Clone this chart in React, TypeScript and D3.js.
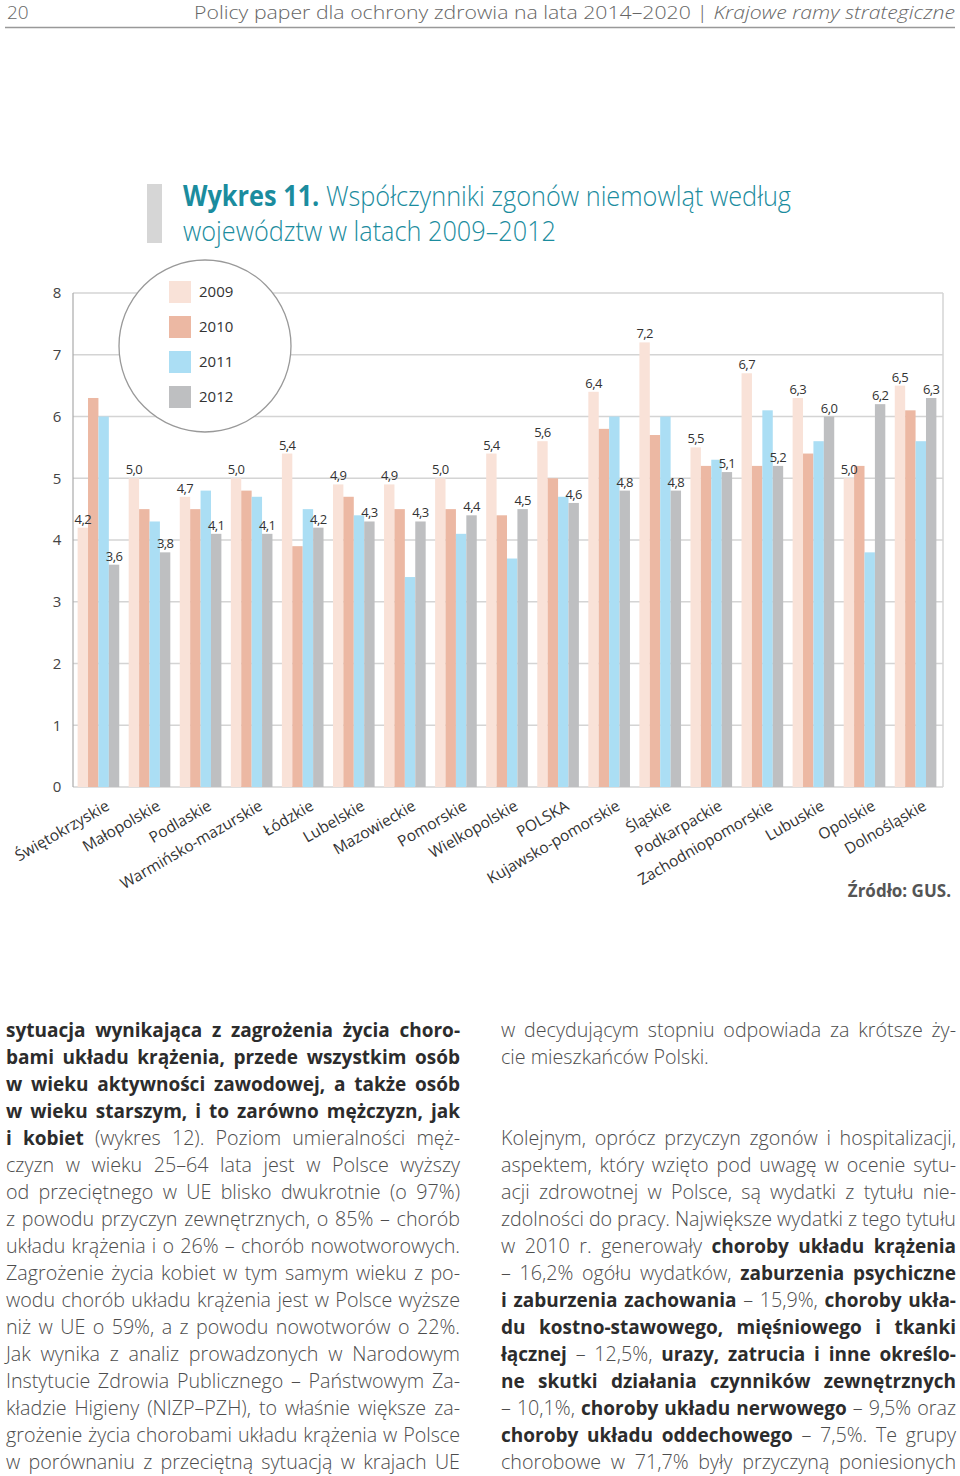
import React from 'react';
import * as d3 from 'd3';

const categories = ['Świętokrzyskie','Małopolskie','Podlaskie','Warmińsko-mazurskie','Łódzkie','Lubelskie','Mazowieckie','Pomorskie','Wielkopolskie','POLSKA','Kujawsko-pomorskie','Śląskie','Podkarpackie','Zachodniopomorskie','Lubuskie','Opolskie','Dolnośląskie'];
const years = ['2009','2010','2011','2012'];
const values2009 = [4.2,5.0,4.7,5.0,5.4,4.9,4.9,5.0,5.4,5.6,6.4,7.2,5.5,6.7,6.3,5.0,6.5];
const values2010 = [6.3,4.5,4.5,4.8,3.9,4.7,4.5,4.5,4.4,5.0,5.8,5.7,5.2,5.2,5.4,5.2,6.1];
const values2011 = [6.0,4.3,4.8,4.7,4.5,4.4,3.4,4.1,3.7,4.7,6.0,6.0,5.3,6.1,5.6,3.8,5.6];
const values2012 = [3.6,3.8,4.1,4.1,4.2,4.3,4.3,4.4,4.5,4.6,4.8,4.8,5.1,5.2,6.0,6.2,6.3];
const seriesValues = [values2009, values2010, values2011, values2012];
const labelledSeries = [0, 3];
const yTicks = [0,1,2,3,4,5,6,7,8];
const colors = ['#f9e2d8','#ecb8a3','#abdef4','#bebfc1'];

const leftLines = [
  '**sytuacja wynikająca z zagrożenia życia choro-**',
  '**bami układu krążenia, przede wszystkim osób**',
  '**w wieku aktywności zawodowej, a także osób**',
  '**w wieku starszym, i to zarówno mężczyzn, jak**',
  '**i kobiet** (wykres 12). Poziom umieralności męż-',
  'czyzn w wieku 25–64 lata jest w Polsce wyższy',
  'od przeciętnego w UE blisko dwukrotnie (o 97%)',
  'z powodu przyczyn zewnętrznych, o 85% – chorób',
  'układu krążenia i o 26% – chorób nowotworowych.',
  'Zagrożenie życia kobiet w tym samym wieku z po-',
  'wodu chorób układu krążenia jest w Polsce wyższe',
  'niż w UE o 59%, a z powodu nowotworów o 22%.',
  'Jak wynika z analiz prowadzonych w Narodowym',
  'Instytucie Zdrowia Publicznego – Państwowym Za-',
  'kładzie Higieny (NIZP–PZH), to właśnie większe za-',
  'grożenie życia chorobami układu krążenia w Polsce',
  'w porównaniu z przeciętną sytuacją w krajach UE',
];
const rightLines = [
  'w decydującym stopniu odpowiada za krótsze ży-',
  'cie mieszkańców Polski.|',
  '',
  '',
  'Kolejnym, oprócz przyczyn zgonów i hospitalizacji,',
  'aspektem, który wzięto pod uwagę w ocenie sytu-',
  'acji zdrowotnej w Polsce, są wydatki z tytułu nie-',
  'zdolności do pracy. Największe wydatki z tego tytułu',
  'w 2010 r. generowały **choroby układu krążenia**',
  '– 16,2% ogółu wydatków, **zaburzenia psychiczne**',
  '**i zaburzenia zachowania** – 15,9%, **choroby ukła-**',
  '**du kostno-stawowego, mięśniowego i tkanki**',
  '**łącznej** – 12,5%, **urazy, zatrucia i inne określo-**',
  '**ne skutki działania czynników zewnętrznych**',
  '– 10,1%, **choroby układu nerwowego** – 9,5% oraz',
  '**choroby układu oddechowego** – 7,5%. Te grupy',
  'chorobowe w 71,7% były przyczyną poniesionych',
];

const FONT = '"Open Sans", sans-serif';
const BOLD_SIZE = 19;
const REG_SIZE = 19.7;
const REG_WEIGHT = 300;

let ctx: CanvasRenderingContext2D | null = null;
function measure(text: string, bold: boolean) {
  if (!ctx) ctx = document.createElement('canvas').getContext('2d');
  if (!ctx) return text.length * 9;
  ctx.font = bold ? `700 ${BOLD_SIZE}px "Open Sans"` : `${REG_WEIGHT} ${REG_SIZE}px "Open Sans"`;
  return ctx.measureText(text).width;
}

function layoutLine(line: string, x0: number, x1: number) {
  let justify = true;
  let src = line;
  if (src.endsWith('|')) { justify = false; src = src.slice(0, -1); }
  const parts = src.split('**');
  const words: { t: string; b: boolean; w: number }[] = [];
  parts.forEach((p, i) => {
    const b = i % 2 === 1;
    p.split(' ').filter(s => s.length).forEach(t => words.push({ t, b, w: measure(t, b) }));
  });
  const total = words.reduce((s, w) => s + w.w, 0);
  const space = measure(' ', false);
  const gap = justify && words.length > 1 ? (x1 - x0 - total) / (words.length - 1) : space;
  let x = x0;
  return words.map(w => { const r = { ...w, x }; x += w.w + gap; return r; });
}

function BodyColumn({ lines, x0, x1, y0 }: { lines: string[]; x0: number; x1: number; y0: number }) {
  return (
    <g>
      {lines.map((line, i) => layoutLine(line, x0, x1).map((w, j) => (
        <text key={`${i}-${j}`} x={w.x} y={y0 + i * 27} fontFamily={FONT} fontSize={w.b ? BOLD_SIZE : REG_SIZE}
          fontWeight={w.b ? 700 : REG_WEIGHT} fill={w.b ? '#2c2c2c' : '#4d4d4d'}>{w.t}</text>
      )))}
    </g>
  );
}

export default function App() {
  const x0 = d3.scaleBand<string>().domain(categories).range([72, 942]).paddingInner(0.185).paddingOuter(0.11);
  const x1 = d3.scaleBand<string>().domain(years).range([0, x0.bandwidth()]);
  const y = d3.scaleLinear().domain([0, 8]).range([787, 293]);
  const plotLeft = 73, plotRight = 943;

  return (
    <svg width={960} height={1476} style={{ position: 'absolute', left: 0, top: 0, background: '#fff' }}>
      {/* header */}
      <text x={7} y={19} fontFamily={FONT} fontSize={19} fontWeight={300} fill="#666">20</text>
      <text x={194} y={19} fontFamily={FONT} fontSize={19} fontWeight={300} fill="#666" textLength={761} lengthAdjust="spacingAndGlyphs">
        Policy paper dla ochrony zdrowia na lata 2014–2020 | <tspan fontStyle="italic">Krajowe ramy strategiczne</tspan>
      </text>
      <line x1={5} x2={955} y1={27.5} y2={27.5} stroke="#999" strokeWidth={1.5} />

      {/* title */}
      <rect x={147} y={184} width={15} height={59} fill="#d6d6d6" />
      <text x={183} y={206} fontFamily={FONT} fontSize={28} fontWeight={300} fill="#1b8c9e" textLength={608} lengthAdjust="spacingAndGlyphs">
        <tspan fontWeight={700}>Wykres 11.</tspan> Współczynniki zgonów niemowląt według
      </text>
      <text x={183} y={241} fontFamily={FONT} fontSize={28} fontWeight={300} fill="#1b8c9e" textLength={373} lengthAdjust="spacingAndGlyphs">
        województw w latach 2009–2012
      </text>

      {/* grid */}
      {yTicks.map(t => (
        <g key={t}>
          <line x1={plotLeft} x2={plotRight} y1={y(t)} y2={y(t)} stroke="#d4d4d4" strokeWidth={1.5} />
          <text x={57} y={y(t)} dy="0.35em" textAnchor="middle" fontFamily={FONT} fontSize={15} fill="#444">{t}</text>
        </g>
      ))}
      <line x1={plotLeft} x2={plotLeft} y1={y(8)} y2={y(0)} stroke="#aaa" strokeWidth={1.2} />
      <line x1={plotRight} x2={plotRight} y1={y(8)} y2={y(0)} stroke="#d4d4d4" strokeWidth={1.5} />

      {/* legend circle */}
      <circle cx={205} cy={346} r={86} fill="#fff" stroke="#999" strokeWidth={1.3} />
      {years.map((yr, i) => (
        <g key={yr}>
          <rect x={169} y={281 + i * 35} width={22} height={22} fill={colors[i]} />
          <text x={199} y={292 + i * 35} dy="0.35em" fontFamily={FONT} fontSize={15} fill="#333">{yr}</text>
        </g>
      ))}

      {/* bars */}
      {categories.map((c, ci) => (
        <g key={c} transform={`translate(${x0(c)},0)`}>
          {years.map((yr, si) => {
            const v = seriesValues[si][ci];
            return <rect key={yr} x={x1(yr)} y={y(v)} width={x1.bandwidth()} height={y(0) - y(v)} fill={colors[si]} />;
          })}
          {labelledSeries.map(si => {
            const v = seriesValues[si][ci];
            return (
              <text key={si} x={(x1(years[si]) as number) + x1.bandwidth() / 2} y={y(v) - 4} textAnchor="middle"
                fontFamily={FONT} fontSize={13} letterSpacing={-0.6} fill="#333">{d3.format('.1f')(v).replace('.', ',')}</text>
            );
          })}
        </g>
      ))}

      {/* x labels */}
      {categories.map(c => {
        const cx = (x0(c) as number) + x0.bandwidth() / 2 + 12;
        return (
          <text key={c} transform={`translate(${cx},809) rotate(-30)`} textAnchor="end" fontFamily={FONT} fontSize={15.5} fill="#333">{c}</text>
        );
      })}

      <text x={951} y={897} textAnchor="end" fontFamily={FONT} fontSize={17} fontWeight={700} fill="#555">Źródło: GUS.</text>

      <BodyColumn lines={leftLines} x0={6} x1={460} y0={1037} />
      <BodyColumn lines={rightLines} x0={501} x1={956} y0={1037} />
    </svg>
  );
}
